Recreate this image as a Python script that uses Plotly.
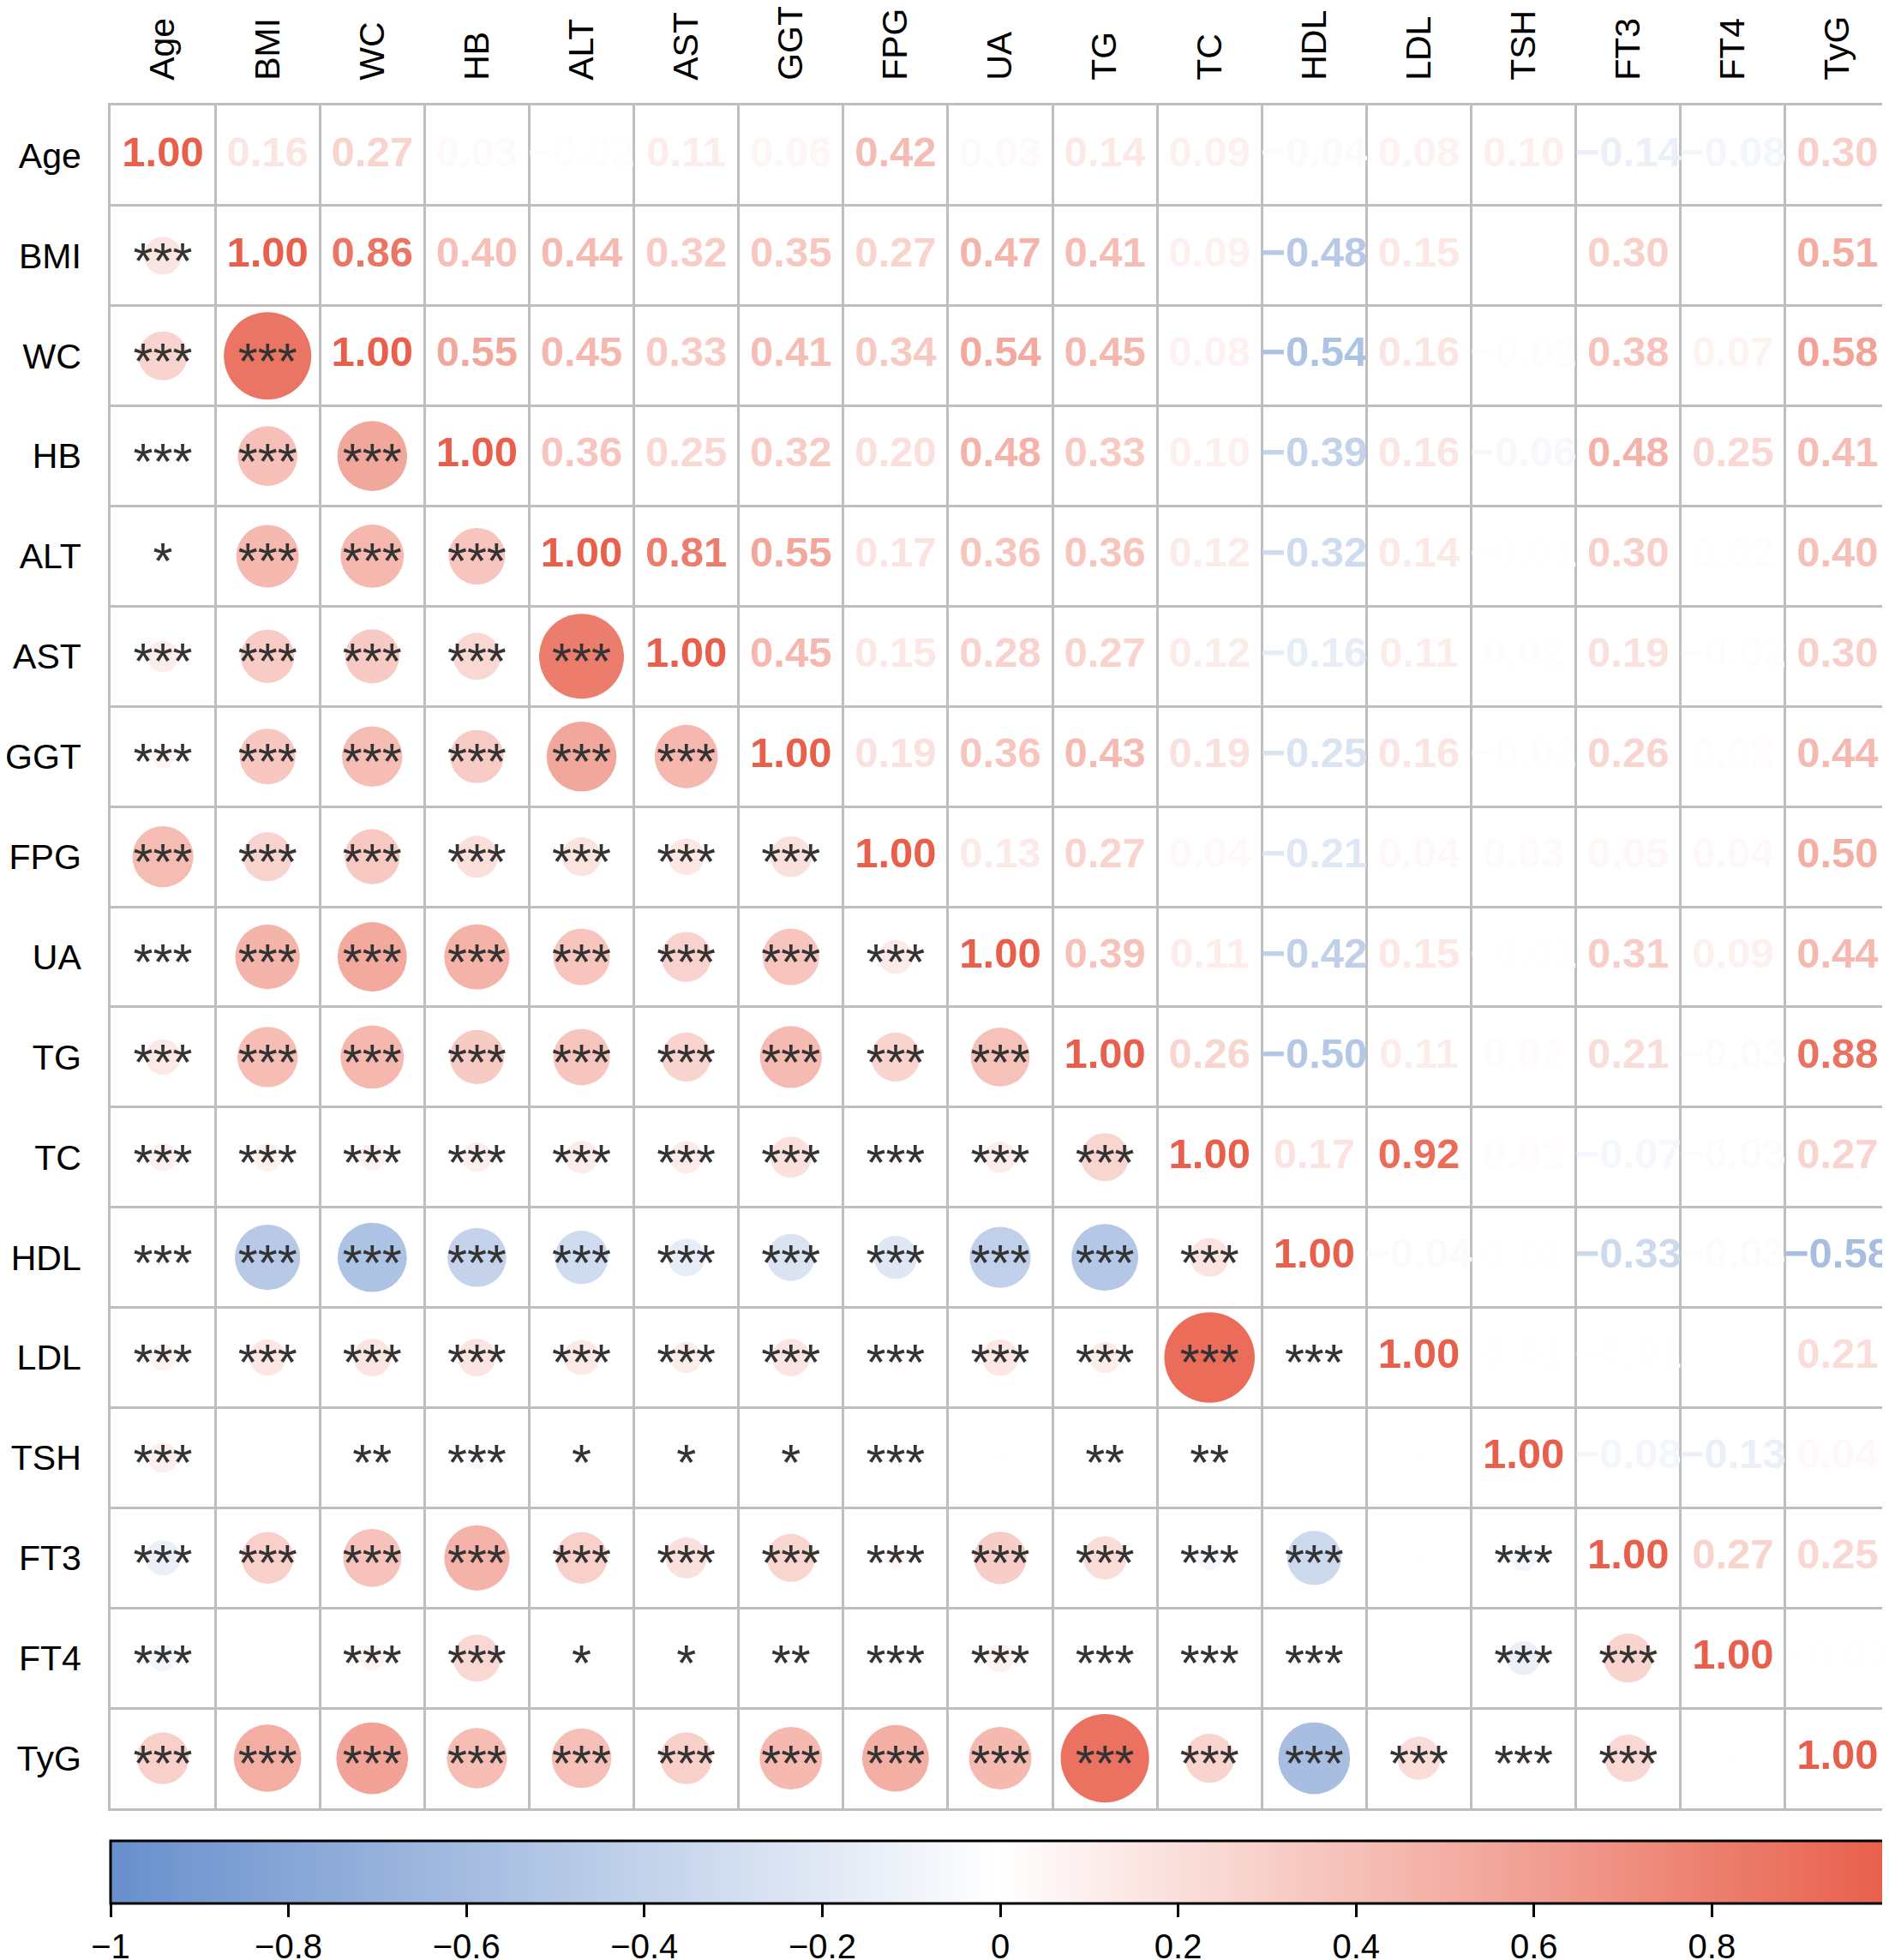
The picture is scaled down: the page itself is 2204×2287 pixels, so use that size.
import numpy as np
import plotly.graph_objects as go

variables = ["Age", "BMI", "WC", "HB", "ALT", "AST", "GGT", "FPG", "UA",
             "TG", "TC", "HDL", "LDL", "TSH", "FT3", "FT4", "TyG"]

# Upper triangle correlations: row i, columns i+1 .. end
upper_age = [0.16, 0.27, 0.03, -0.02, 0.11, 0.06, 0.42, 0.03, 0.14, 0.09, -0.04, 0.08, 0.10, -0.14, -0.08, 0.30]
upper_bmi = [0.86, 0.40, 0.44, 0.32, 0.35, 0.27, 0.47, 0.41, 0.09, -0.48, 0.15, 0.00, 0.30, 0.00, 0.51]
upper_wc = [0.55, 0.45, 0.33, 0.41, 0.34, 0.54, 0.45, 0.08, -0.54, 0.16, -0.02, 0.38, 0.07, 0.58]
upper_hb = [0.36, 0.25, 0.32, 0.20, 0.48, 0.33, 0.10, -0.39, 0.16, -0.06, 0.48, 0.25, 0.41]
upper_alt = [0.81, 0.55, 0.17, 0.36, 0.36, 0.12, -0.32, 0.14, -0.01, 0.30, 0.02, 0.40]
upper_ast = [0.45, 0.15, 0.28, 0.27, 0.12, -0.16, 0.11, 0.02, 0.19, -0.02, 0.30]
upper_ggt = [0.19, 0.36, 0.43, 0.19, -0.25, 0.16, -0.02, 0.26, 0.02, 0.44]
upper_fpg = [0.13, 0.27, 0.04, -0.21, 0.04, 0.03, 0.05, 0.04, 0.50]
upper_ua = [0.39, 0.11, -0.42, 0.15, -0.01, 0.31, 0.09, 0.44]
upper_tg = [0.26, -0.50, 0.11, 0.02, 0.21, -0.03, 0.88]
upper_tc = [0.17, 0.92, 0.02, -0.07, -0.03, 0.27]
upper_hdl = [-0.04, 0.01, -0.33, -0.03, -0.58]
upper_ldl = [0.01, -0.01, 0.00, 0.21]
upper_tsh = [-0.08, -0.13, 0.04]
upper_ft3 = [0.27, 0.25]
upper_ft4 = [-0.01]
upper_tyg = []

# Significance marks in the lower triangle: row i, columns 0 .. i-1
sig_age = []
sig_bmi = ["***"]
sig_wc = ["***", "***"]
sig_hb = ["***", "***", "***"]
sig_alt = ["*", "***", "***", "***"]
sig_ast = ["***", "***", "***", "***", "***"]
sig_ggt = ["***", "***", "***", "***", "***", "***"]
sig_fpg = ["***", "***", "***", "***", "***", "***", "***"]
sig_ua = ["***", "***", "***", "***", "***", "***", "***", "***"]
sig_tg = ["***", "***", "***", "***", "***", "***", "***", "***", "***"]
sig_tc = ["***", "***", "***", "***", "***", "***", "***", "***", "***", "***"]
sig_hdl = ["***", "***", "***", "***", "***", "***", "***", "***", "***", "***", "***"]
sig_ldl = ["***", "***", "***", "***", "***", "***", "***", "***", "***", "***", "***", "***"]
sig_tsh = ["***", "", "**", "***", "*", "*", "*", "***", "", "**", "**", "", ""]
sig_ft3 = ["***", "***", "***", "***", "***", "***", "***", "***", "***", "***", "***", "***", "", "***"]
sig_ft4 = ["***", "", "***", "***", "*", "*", "**", "***", "***", "***", "***", "***", "", "***", "***"]
sig_tyg = ["***", "***", "***", "***", "***", "***", "***", "***", "***", "***", "***", "***", "***", "***", "***", ""]

colorbar_ticks = [-1, -0.8, -0.6, -0.4, -0.2, 0, 0.2, 0.4, 0.6, 0.8, 1]

upper_rows = [upper_age, upper_bmi, upper_wc, upper_hb, upper_alt, upper_ast, upper_ggt,
              upper_fpg, upper_ua, upper_tg, upper_tc, upper_hdl, upper_ldl, upper_tsh,
              upper_ft3, upper_ft4, upper_tyg]
sig_rows = [sig_age, sig_bmi, sig_wc, sig_hb, sig_alt, sig_ast, sig_ggt, sig_fpg, sig_ua,
            sig_tg, sig_tc, sig_hdl, sig_ldl, sig_tsh, sig_ft3, sig_ft4, sig_tyg]

n = len(variables)
corr = np.eye(n)
for i, row in enumerate(upper_rows):
    for k, v in enumerate(row):
        j = i + 1 + k
        corr[i, j] = v
        corr[j, i] = v

NEG = (104, 143, 204)
POS = (232, 95, 75)


def value_color(r):
    end = POS if r >= 0 else NEG
    t = min(abs(r), 1.0)
    c = [round(255 + (e - 255) * t) for e in end]
    return f"rgb({c[0]},{c[1]},{c[2]})"


colorscale = [[0.0, f"rgb{NEG}"], [0.5, "rgb(255,255,255)"], [1.0, f"rgb{POS}"]]


def fmt(r):
    s = f"{abs(r):.2f}"
    return ("\u2212" + s) if r < 0 else s


FONT = "Liberation Sans, Arial, sans-serif"
CIRCLE_MAX = 110  # px diameter at |r| = 1
STAR_DY = 0.10    # rows; lowers the raised asterisk glyphs to the cell centre

# lower triangle circles + stars
cx, cy, cval, csize = [], [], [], []
sx, sy, stext = [], [], []
for i in range(n):
    for j in range(i):
        r = corr[i, j]
        cx.append(j)
        cy.append(i)
        cval.append(r)
        csize.append(CIRCLE_MAX * np.sqrt(abs(r)))
        if sig_rows[i][j]:
            sx.append(j)
            sy.append(i + STAR_DY)
            stext.append(sig_rows[i][j])

# upper triangle numbers (incl. diagonal)
tx, ty, ttext, tcol = [], [], [], []
for i in range(n):
    for j in range(i, n):
        r = corr[i, j]
        tx.append(j)
        ty.append(i)
        ttext.append(fmt(r))
        tcol.append(value_color(r))

fig = go.Figure()

fig.add_trace(go.Scatter(
    x=cx, y=cy, mode="markers",
    marker=dict(size=csize, color=cval, colorscale=colorscale, cmin=-1, cmax=1,
                line=dict(width=0), opacity=1,
                showscale=True,
                colorbar=dict(
                    orientation="h", thickness=73, thicknessmode="pixels",
                    len=2076, lenmode="pixels",
                    x=0.5, xanchor="center", xref="paper",
                    y=-0.0191, yanchor="top", yref="paper",
                    xpad=0, ypad=0,
                    outlinewidth=3, outlinecolor="black",
                    tickmode="array", tickvals=colorbar_ticks,
                    ticktext=[("\u2212" + f"{abs(v):g}") if v < 0 else f"{v:g}" for v in colorbar_ticks],
                    ticks="outside", ticklen=15, tickwidth=3, tickcolor="black",
                    tickfont=dict(family=FONT, size=40, color="black"),
                    borderwidth=0,
                )),
    hoverinfo="skip", showlegend=False,
))

fig.add_trace(go.Scatter(
    x=sx, y=sy, mode="text", text=stext,
    textposition="middle center",
    textfont=dict(family=FONT, size=59, color="#333333"),
    hoverinfo="skip", showlegend=False,
))

fig.add_trace(go.Scatter(
    x=tx, y=ty, mode="text", text=ttext,
    textposition="middle center",
    textfont=dict(family=FONT, size=49, color=tcol, weight="bold"),
    hoverinfo="skip", showlegend=False,
))

GRID = "#BEBEBE"
axis_common = dict(
    tickmode="array", tickvals=list(range(n)), ticktext=variables,
    ticks="outside", tickcolor="rgba(0,0,0,0)",
    tickfont=dict(family=FONT, size=41, color="black"),
    showgrid=False, zeroline=False, automargin=False,
    showline=True, mirror=True, linecolor=GRID, linewidth=3,
    minor=dict(tick0=-0.5, dtick=1, showgrid=True, gridcolor=GRID, gridwidth=2.5, ticks=""),
    fixedrange=True,
)

fig.update_layout(
    width=2204, height=2287,
    margin=dict(l=120.5, r=7, t=115, b=185, pad=0, autoexpand=False),
    paper_bgcolor="white", plot_bgcolor="white",
    xaxis=dict(axis_common, range=[-0.5, n - 0.5], side="top", tickangle=-90, ticklen=18),
    yaxis=dict(axis_common, range=[n - 0.5, -0.5], ticklen=23),
    showlegend=False,
)

fig.write_html("out.html")
